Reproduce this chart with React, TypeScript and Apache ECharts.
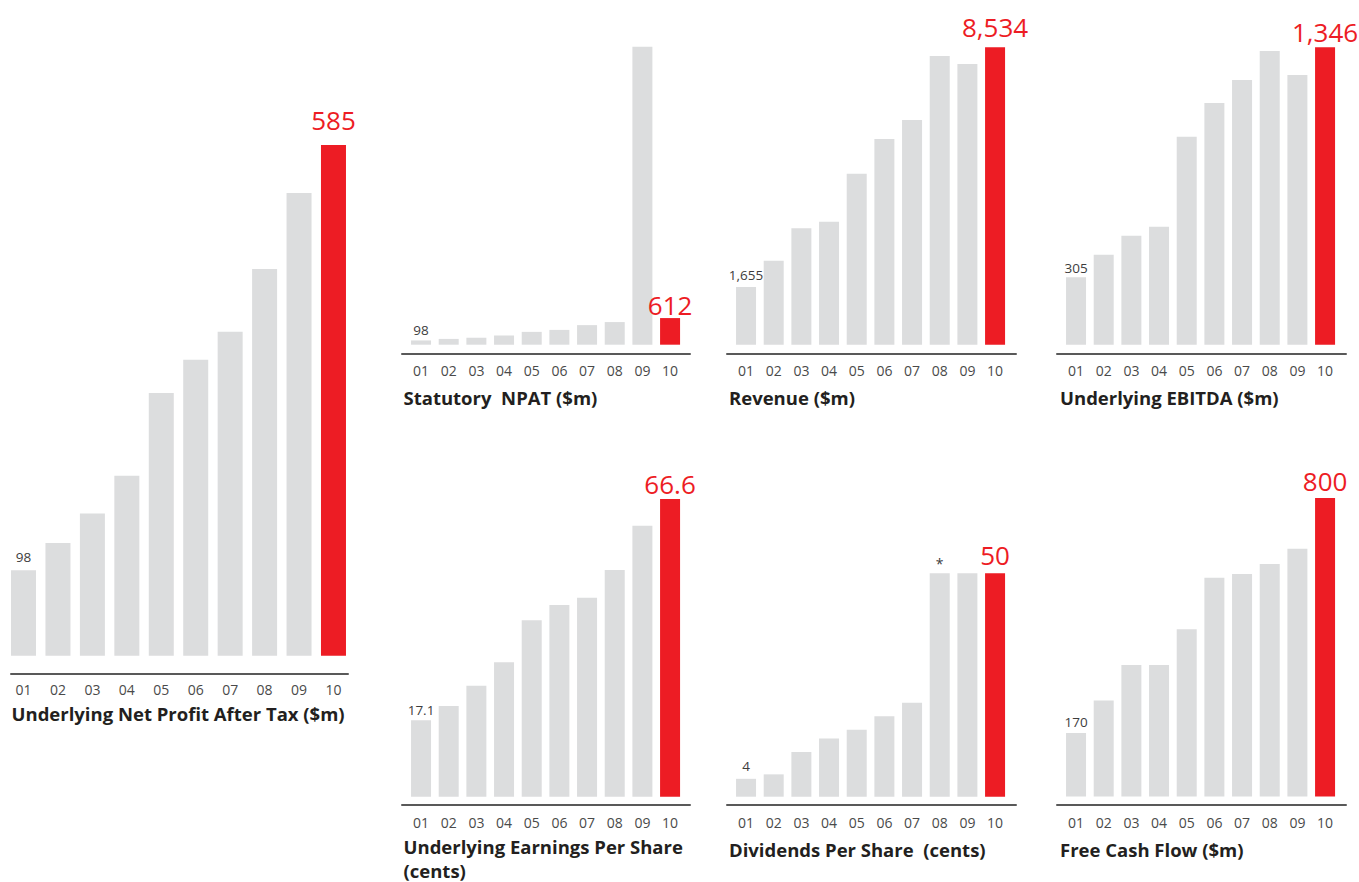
import React, { useEffect, useRef } from 'react';
import * as echarts from 'echarts';

// ---- data ----
const years = ['01', '02', '03', '04', '05', '06', '07', '08', '09', '10'];
const underlyingNpat = [98, 129, 163, 206, 301, 339, 371, 443, 530, 585];
const statutoryNpat = [98, 133, 160, 210, 295, 340, 450, 520, 6850, 612];
const revenue = [1655, 2408, 3345, 3526, 4902, 5906, 6451, 8285, 8056, 8534];
const underlyingEbitda = [305, 407, 493, 534, 941, 1094, 1198, 1329, 1221, 1346];
const underlyingEps = [17.1, 20.3, 24.8, 30.1, 39.5, 42.9, 44.5, 50.7, 60.6, 66.6];
const dividendsPerShare = [4, 5, 10, 13, 15, 18, 21, 50, 50, 50];
const dividendNotes = ['', '', '', '', '', '', '', '*', '', ''];
const freeCashFlow = [170, 257, 352, 352, 448, 586, 596, 623, 664, 800];

const titles = [
  'Underlying Net Profit After Tax ($m)',
  'Statutory  NPAT ($m)',
  'Revenue ($m)',
  'Underlying EBITDA ($m)',
  'Underlying Earnings Per Share\n(cents)',
  'Dividends Per Share  (cents)',
  'Free Cash Flow ($m)',
];

// ---- layout (positions / sizes only) ----
const panels = [
  { values: underlyingNpat, notes: null as string[] | null, left: 6.3, width: 344.4, top: 145, bottom: 655.7, barWidth: 25, lineX1: 11, lineX2: 348, lineY: 673.7, labelMargin: 26.6, titleX: 11.5, titleY: 713, titleLH: 22, greyDist: 7, redDist: 12 },
  { values: statutoryNpat, notes: null, left: 407.2, width: 276.7, top: 46.7, bottom: 344.7, barWidth: 20, lineX1: 402, lineX2: 690, lineY: 353.3, labelMargin: 18.3, titleX: 403.5, titleY: 397.5, titleLH: 22, greyDist: 4.4, redDist: 0.5 },
  { values: revenue, notes: null, left: 732.2, width: 276.7, top: 47.3, bottom: 344.7, barWidth: 20, lineX1: 727, lineX2: 1016, lineY: 353.3, labelMargin: 18.3, titleX: 729, titleY: 397.5, titleLH: 22, greyDist: 5.2, redDist: 7 },
  { values: underlyingEbitda, notes: null, left: 1062.2, width: 276.7, top: 47.3, bottom: 344.7, barWidth: 20, lineX1: 1057, lineX2: 1346, lineY: 353.3, labelMargin: 18.3, titleX: 1060, titleY: 397.5, titleLH: 22, greyDist: 3.2, redDist: 2 },
  { values: underlyingEps, notes: null, left: 407.2, width: 276.7, top: 499, bottom: 796.7, barWidth: 20, lineX1: 402, lineX2: 690, lineY: 805, labelMargin: 18.6, titleX: 403.5, titleY: 846, titleLH: 24, greyDist: 3.9, redDist: 2 },
  { values: dividendsPerShare, notes: dividendNotes, left: 732.2, width: 276.7, top: 573.3, bottom: 796.7, barWidth: 20, lineX1: 727, lineX2: 1016, lineY: 805, labelMargin: 18.6, titleX: 729, titleY: 849, titleLH: 22, greyDist: 5.9, redDist: 5 },
  { values: freeCashFlow, notes: null, left: 1062.2, width: 276.7, top: 498, bottom: 796.4, barWidth: 20, lineX1: 1057, lineX2: 1346, lineY: 805, labelMargin: 18.6, titleX: 1060, titleY: 849, titleLH: 22, greyDist: 4.9, redDist: 4 },
];

const FONT = "'Open Sans', 'Noto Sans', sans-serif";
const GREY = '#DCDDDE';
const RED = '#ED1C24';
const TEXT_DARK = '#231F20';

const fmt = (v: number) => (v >= 1000 ? v.toLocaleString('en-US') : String(v));

export default function App() {
  const ref = useRef<HTMLDivElement>(null);

  useEffect(() => {
    const chart = echarts.init(ref.current!, null, { renderer: 'svg' });
    const grid: any[] = [];
    const xAxis: any[] = [];
    const yAxis: any[] = [];
    const series: any[] = [];
    const title: any[] = [];

    panels.forEach((p, i) => {
      const g = i * 2;
      const last = p.values.length - 1;
      // bar grid
      grid.push({ left: p.left, top: p.top, width: p.width, height: p.bottom - p.top, containLabel: false, outerBoundsMode: 'none' });
      // axis-line grid
      grid.push({ left: p.lineX1, top: p.lineY - 10, width: p.lineX2 - p.lineX1, height: 10, containLabel: false, outerBoundsMode: 'none' });

      xAxis.push({
        gridIndex: g,
        type: 'category',
        data: years,
        axisLine: { show: false },
        axisTick: { show: false },
        splitLine: { show: false },
        axisLabel: {
          interval: 0,
          margin: p.labelMargin,
          fontSize: 14,
          lineHeight: 14,
          color: '#4a4a4a',
          fontFamily: FONT,
        },
      });
      yAxis.push({ gridIndex: g, type: 'value', min: 0, max: Math.max(...p.values), show: false, splitLine: { show: false } });

      xAxis.push({
        gridIndex: g + 1,
        type: 'value',
        min: 0,
        max: 1,
        axisLine: { show: true, onZero: false, lineStyle: { color: '#595959', width: 2 } },
        axisTick: { show: false },
        axisLabel: { show: false },
        splitLine: { show: false },
      });
      yAxis.push({ gridIndex: g + 1, type: 'value', min: 0, max: 1, show: false, splitLine: { show: false } });

      series.push({
        type: 'bar',
        xAxisIndex: g,
        yAxisIndex: g,
        barWidth: p.barWidth,
        silent: true,
        data: p.values.map((v, k) => {
          let label: any = { show: false };
          if (k === 0) {
            label = { show: true, position: 'top', distance: p.greyDist, formatter: fmt(v), fontSize: 13.5, lineHeight: 13, color: '#3d3d3d', fontFamily: FONT };
          } else if (k === last) {
            label = { show: true, position: 'top', distance: p.redDist, formatter: fmt(v), fontSize: 26, lineHeight: 26, color: RED, fontFamily: FONT };
          } else if (p.notes && p.notes[k]) {
            label = { show: true, position: 'top', distance: 3, formatter: p.notes[k], fontSize: 14, lineHeight: 14, color: '#3d3d3d', fontFamily: FONT };
          }
          return {
            value: v,
            itemStyle: { color: k === last ? RED : GREY },
            label,
          };
        }),
      });

      title.push({
        text: titles[i],
        left: p.titleX,
        top: p.titleY - p.titleLH / 2,
        padding: 0,
        textStyle: {
          fontFamily: FONT,
          fontWeight: 700,
          fontSize: 18.5,
          lineHeight: p.titleLH,
          color: TEXT_DARK,
        },
      });
    });

    chart.setOption({
      animation: false,
      backgroundColor: '#ffffff',
      title,
      grid,
      xAxis,
      yAxis,
      series,
    });

    return () => chart.dispose();
  }, []);

  return (
    <div
      ref={ref}
      style={{ position: 'absolute', left: 0, top: 0, width: 1359, height: 882, background: '#fff' }}
    />
  );
}
